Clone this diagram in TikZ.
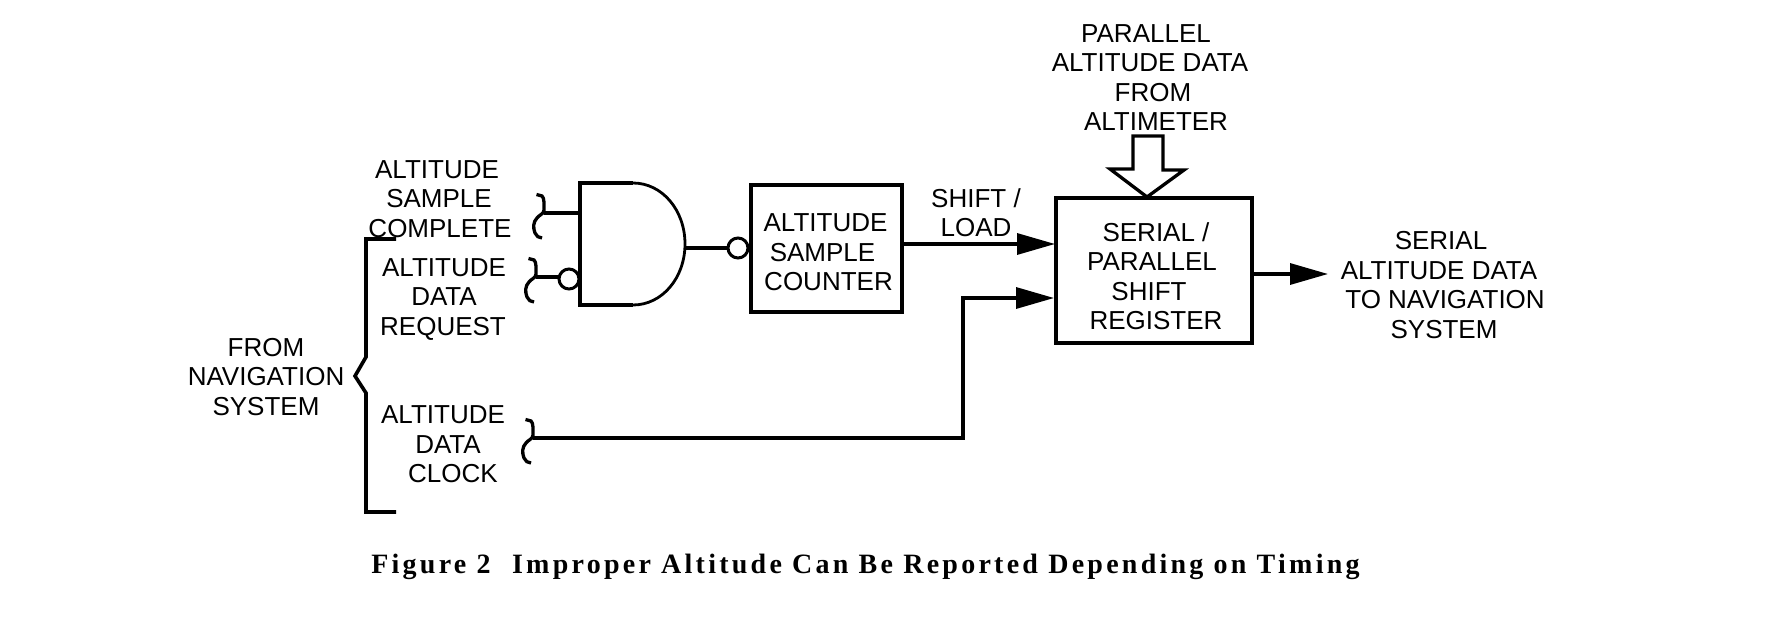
\documentclass[tikz,border=0pt]{standalone}
\usepackage{fontspec}
\setmainfont{Liberation Sans}
\newfontfamily\captionfont[LetterSpace=11.6]{Liberation Serif}
\usetikzlibrary{arrows.meta}
% shift one line of a centred block sideways by #1 pt
\newcommand{\nudge}[2]{\hspace*{#1pt}\hspace*{#1pt}#2}
\tikzset{
  x=1pt,y=-1pt,
  wire/.style={line width=3.3pt,line cap=butt},
  thinwire/.style={line width=2.8pt},
  flow/.style={wire,-{Triangle[length=38pt,width=21pt]}},
  label/.style={inner sep=0pt,align=center,font=\fontsize{26}{29.5}\selectfont,text depth=0pt},
  block/.style={draw,line width=3.3pt,inner sep=0pt,align=center,font=\fontsize{26}{29.5}\selectfont},
  bubble/.style={draw,circle,line width=3pt,inner sep=0pt,minimum size=20pt},
  wiggle/.pic={
    \draw[line width=3.3pt] (-7.5,-18.5) -- (-2,-17) .. controls (0.5,-15) and (0,-8) .. (0,-3)
      .. controls (0,1) and (-5,2) .. (-7,5) .. controls (-11,9) and (-11,15) .. (-9,20)
      .. controls (-8,23) and (-5,25) .. (-2,25);
  }
}
\begin{document}
\begin{tikzpicture}
\useasboundingbox (0,0) rectangle (1784,631);

% text labels
\node[label] (lblsample) at (439,199) {\nudge{-2}{ALTITUDE}\\SAMPLE\\\nudge{1}{COMPLETE}};
\node[label] (lblrequest) at (444,297) {ALTITUDE\\DATA\\\nudge{-1}{REQUEST}};
\node[label] (lblclock) at (447,444.5) {\nudge{-4}{ALTITUDE}\\\nudge{1}{DATA}\\\nudge{6}{CLOCK}};
\node[label] (lblfrom) at (266,376.5) {FROM\\NAVIGATION\\SYSTEM};
\node[label] (lblpar) at (1151,77.5) {\nudge{-5}{PARALLEL}\\\nudge{-1}{ALTITUDE DATA}\\\nudge{2}{FROM}\\\nudge{5}{ALTIMETER}};
\node[label] (lblshift) at (976,212.5) {SHIFT /\\LOAD};
\node[label] (lblout) at (1442,285) {\nudge{-1}{SERIAL}\\\nudge{-3}{ALTITUDE DATA}\\\nudge{3}{TO NAVIGATION}\\\nudge{2}{SYSTEM}};
\node[inner sep=0pt,font=\captionfont\bfseries\fontsize{28}{30}\selectfont,anchor=base] (caption) at (865.5,573)
  {Figure 2\hspace{0.4em} Improper Altitude Can Be Reported Depending on Timing};

% counter and shift register; the tall first-line struts sit the text low in each box
\node[block,minimum width=151pt,minimum height=127pt] (counter) at (826.5,248.5)
  {\rule{0pt}{26pt}\nudge{-1}{ALTITUDE}\\\nudge{-4}{SAMPLE}\\\nudge{2}{COUNTER}};
\node[block,minimum width=196pt,minimum height=145pt] (register) at (1154,270.5)
  {\rule{0pt}{30.5pt}\nudge{2}{SERIAL /}\\\nudge{-2}{PARALLEL}\\\nudge{-5}{SHIFT}\\\nudge{2}{REGISTER}};

% NAND gate with inverted input and output
\coordinate (gtl) at (580,183);
\coordinate (gbl) at (580,305);
\coordinate (gout) at (684,248);
\draw[wire,line join=miter] (633,183) -- (gtl) -- (gbl) -- (633,305);
\draw[thinwire] (633,183) .. controls (662,183) and (685,210) .. (685,244)
  .. controls (685,278) and (662,305) .. (633,305);
\node[bubble] (outbub) at (738,248) {};
\node[bubble] (inbub) at (569,279) {};
\draw[wire] (gout) -- (outbub);

% signal braces and their leads
\coordinate (jsample) at (544,213);
\coordinate (gin) at (578,213);
\coordinate (jrequest) at (536,277);
\coordinate (jclock) at (533,438);
\pic at (jsample) {wiggle};
\pic at (jrequest) {wiggle};
\pic at (jclock) {wiggle};
\draw[wire] (jsample) -- (gin);
\draw[wire] (jrequest) -- (inbub.west |- jrequest);

% large bracket beside the system label
\coordinate (btop) at (396,239);
\coordinate (bbot) at (396,512);
\draw[line width=3.6pt,line join=miter] (btop) -- (366,239) -- (366,357) -- (355,376) -- (366,393) -- (366,512) -- (bbot);

% signal flow
\coordinate (shiftin) at (1055,244);
\draw[flow] (counter.east |- shiftin) -- (shiftin);
\coordinate (clockin) at (1054,298);
\coordinate (corner) at (963,298);
\draw[flow] (jclock) -| (corner) -- (clockin);
\coordinate (outtip) at (1328,274);
\draw[flow] (register.east |- outtip) -- (outtip);

% hollow parallel-data arrow
\draw[line width=3.3pt,line join=miter,fill=white] (1133,136) -- (1163,136) -- (1163,170) -- (1184,170)
  -- (1147,197) -- (1110,169) -- (1133,169) -- cycle;
\end{tikzpicture}
\end{document}
